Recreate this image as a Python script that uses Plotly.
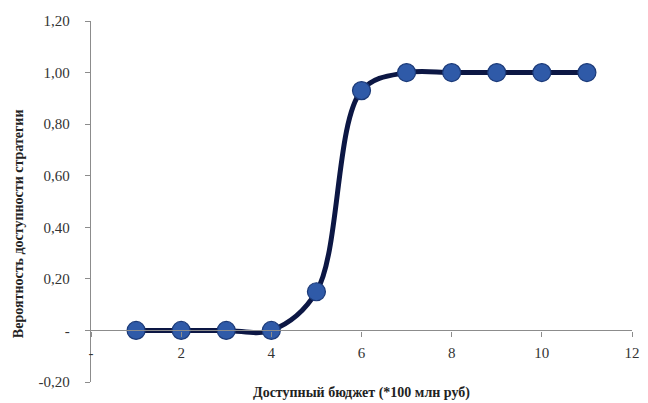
import plotly.graph_objects as go

x_vals = [1, 2, 3, 4, 5, 6, 7, 8, 9, 10, 11]
y_vals = [0.0, 0.0, 0.0, 0.0, 0.15, 0.93, 1.0, 1.0, 1.0, 1.0, 1.0]

x_tickvals = [0, 2, 4, 6, 8, 10, 12]
x_ticktext = ["-", "2", "4", "6", "8", "10", "12"]
y_tickvals = [-0.2, 0, 0.2, 0.4, 0.6, 0.8, 1.0, 1.2]
y_ticktext = ["-0,20", "-", "0,20", "0,40", "0,60", "0,80", "1,00", "1,20"]

x_title = "Доступный бюджет (*100 млн руб)"
y_title = "Вероятность доступности стратегии"

font_family = "Liberation Serif, Times New Roman, serif"
axis_color = "#8c8c8c"

fig = go.Figure()
fig.add_trace(go.Scatter(
    x=x_vals, y=y_vals, mode="lines+markers",
    line=dict(color="#0c1744", width=5, shape="spline", smoothing=1.0),
    marker=dict(size=18, color="#2f5aa8", line=dict(color="#1c3a78", width=1.2)),
    showlegend=False,
))

y_min, y_max = -0.2, 1.2
fig.update_layout(
    width=648, height=403,
    margin=dict(l=91, r=8, t=21, b=21),
    paper_bgcolor="white", plot_bgcolor="white",
    font=dict(family=font_family, size=14, color="#333333"),
    xaxis=dict(
        range=[0, 12], tickvals=x_tickvals, ticktext=x_ticktext,
        showgrid=False, zeroline=False, showline=True, linecolor=axis_color,
        linewidth=1.3, ticks="outside", ticklen=5, tickcolor=axis_color,
        anchor="free", position=(0 - y_min) / (y_max - y_min),
        tickfont=dict(family=font_family, size=15, color="#333333"),
        ticklabelstandoff=3,
    ),
    yaxis=dict(
        range=[y_min, y_max], tickvals=y_tickvals, ticktext=y_ticktext,
        showgrid=False, zeroline=False, showline=True, linecolor=axis_color,
        linewidth=1.3, ticks="outside", ticklen=5, tickcolor=axis_color,
        tickfont=dict(family=font_family, size=15, color="#333333"),
        ticklabelstandoff=12,
    ),
    annotations=[
        dict(text="<b>" + x_title + "</b>", x=0.5, xref="paper", y=-0.03, yref="paper",
             xanchor="center", yanchor="middle", showarrow=False,
             font=dict(family=font_family, size=14, color="#222222")),
        dict(text="<b>" + y_title + "</b>", x=-0.135, xref="paper", y=0.44, yref="paper",
             xanchor="center", yanchor="middle", showarrow=False, textangle=-90,
             font=dict(family=font_family, size=14, color="#222222")),
    ],
)

fig.write_html("out.html")
